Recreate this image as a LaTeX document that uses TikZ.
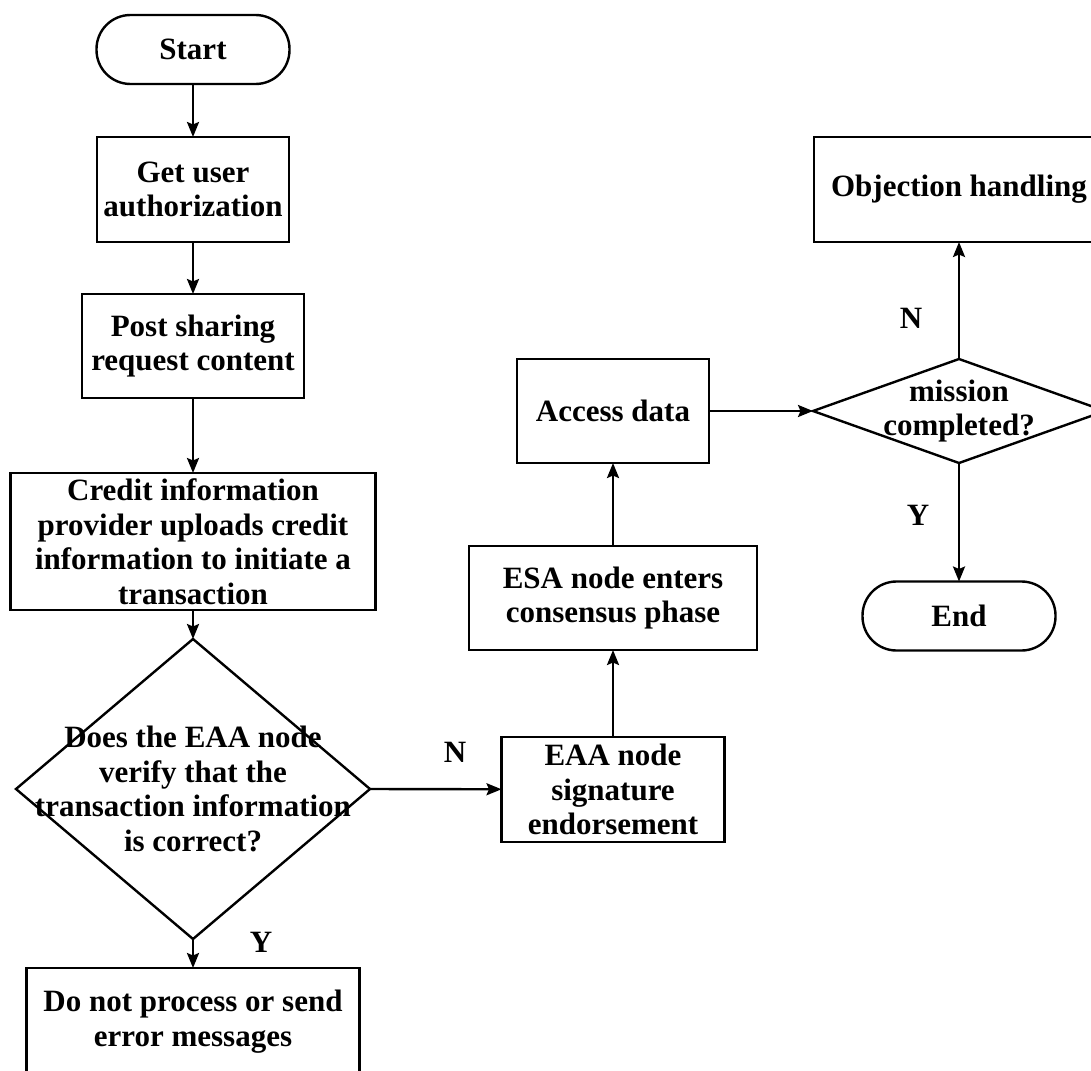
\documentclass[tikz,border=0pt]{standalone}
\usepackage{fontspec}
\setmainfont{Liberation Serif}
\usetikzlibrary{shapes.geometric,arrows.meta}
\begin{document}
\begin{tikzpicture}[x=1pt,y=-1pt,
  every node/.style={font=\bfseries\fontsize{31pt}{34.5pt}\selectfont, align=center, inner sep=0pt, outer sep=0pt},
  box/.style={draw, rectangle, line width=2.4pt},
  term/.style={draw, rectangle, rounded corners=34pt, line width=2.4pt, minimum width=193pt, minimum height=69pt},
  dia/.style={draw, diamond, line width=2.4pt},
  arr/.style={-{Stealth[length=15pt,width=12pt,inset=2.5pt]}, line width=2.4pt},
]
\useasboundingbox (0,0) rectangle (1091,1070);

\node[term] (start) at (193,49.5) {Start};
\node[box, minimum width=192pt, minimum height=105pt] (auth) at (193,189.5) {Get user\\authorization};
\node[box, minimum width=222pt, minimum height=104pt] (post) at (193,346) {Post sharing\\request content};
\node[box, minimum width=365pt, minimum height=137pt] (credit) at (193,541.5) {Credit information\\provider uploads credit\\information to initiate a\\transaction};
\node[dia, minimum width=354pt, minimum height=300pt] (verify) at (193,789) {};
\node (verifyt) at (verify) {Does the EAA node\\verify that the\\transaction information\\is correct?};
\node[box, minimum width=333pt, minimum height=107pt] (reject) at (193,1021.5) {Do not process or send\\error messages};

\node[box, minimum width=223pt, minimum height=105pt] (eaa) at (613,789.5) {EAA node\\signature\\endorsement};
\node[box, minimum width=288pt, minimum height=104pt] (esa) at (613,598) {ESA node enters\\consensus phase};
\node[box, minimum width=192pt, minimum height=104pt] (access) at (613,411) {Access data};

\node[dia, minimum width=292pt, minimum height=104pt] (mission) at (959,411) {};
\node (missiont) at (mission) {mission\\completed?};
\node[box, minimum width=290pt, minimum height=105pt] (objection) at (959,189.5) {Objection handling};
\node[term] (end) at (959,616) {End};

\draw[arr] (start) -- (auth);
\draw[arr] (auth) -- (post);
\draw[arr] (post) -- (credit);
\draw[arr] (credit) -- (verify.north);
\draw[arr] (verify.south) -- (reject);
\draw[arr] (verify.east) -- (eaa);
\draw[arr] (eaa) -- (esa);
\draw[arr] (esa) -- (access);
\draw[arr] (access) -- (mission.west);
\draw[arr] (mission.north) -- (objection);
\draw[arr] (mission.south) -- (end);

\node (n1) at (455,752) {N};
\node (y1) at (261,942) {Y};
\node (n2) at (911,318) {N};
\node (y2) at (918,515) {Y};
\end{tikzpicture}
\end{document}
